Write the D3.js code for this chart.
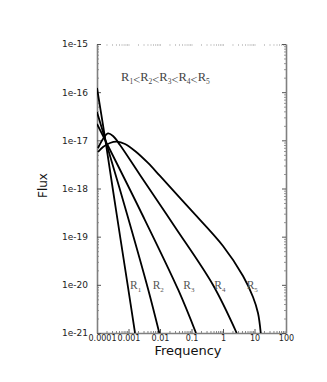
<!DOCTYPE html>
<html>
<head>
<meta charset="utf-8">
<script src="https://cdn.jsdelivr.net/npm/d3@7"></script>
<style>
  body { margin: 0; background: #fff; }
  svg { display: block; }
</style>
</head>
<body>
<div id="chart"></div>
<script>
// spectra for five radii (frequency, flux)
const seriesNames = ["1", "2", "3", "4", "5"]

const freqR1 = [1e-4, 1.8e-4, 4.01e-4, 9.64e-4, 1.61e-3]
const fluxR1 = [1.22e-16, 1.12e-17, 3.58e-19, 9.0e-21, 1e-21]

const freqR2 = [1e-4, 1.8e-4, 8.96e-4, 4.26e-3, 9.51e-3]
const fluxR2 = [3.87e-17, 1.07e-17, 2.96e-19, 7.82e-21, 1e-21]

const freqR3 = [1e-4, 1.8e-4, 2.32e-3, 0.0381, 0.139]
const fluxR3 = [2.18e-17, 1.02e-17, 3.58e-19, 7.82e-21, 1e-21]

const freqR4 = [1.076e-4, 1.55e-4, 2.23e-4, 3.22e-4, 5.37e-4, 2.32e-3, 0.0299, 0.482, 2.72]
const fluxR4 = [6.93e-18, 1.07e-17, 1.39e-17, 1.23e-17, 8.0e-18, 1.91e-18, 1.59e-19, 9.93e-21, 1e-21]

const freqR5 = [1.076e-4, 1.55e-4, 2.59e-4, 4.31e-4, 7.74e-4, 1.61e-3, 4.16e-3, 0.01, 0.0895, 1.0, 4.32, 8.96, 12.9, 15.8]
const fluxR5 = [5.73e-18, 7.28e-18, 8.81e-18, 9.37e-18, 8.39e-18, 6.01e-18, 3.39e-18, 1.82e-18, 3.76e-19, 6.41e-20, 1.53e-20, 5.6e-21, 2.61e-21, 1e-21]

// where the R labels sit near the bottom (left edge of each label)
const labelFreq = [1.12e-3, 5.86e-3, 0.055, 0.53, 5.65]
const labelFlux = 8.2e-21

const xTicks = [1e-4, 1e-3, 1e-2, 1e-1, 1, 10, 100]
const xTickLabels = ["0.0001", "0.001", "0.01", "0.1", "1", "10", "100"]
const yTicks = [1e-21, 1e-20, 1e-19, 1e-18, 1e-17, 1e-16, 1e-15]
const yTickLabels = ["1e-21", "1e-20", "1e-19", "1e-18", "1e-17", "1e-16", "1e-15"]

const width = 327
const height = 382
const margin = { top: 44, right: 41, bottom: 49, left: 97 }

const series = [
  [freqR1, fluxR1],
  [freqR2, fluxR2],
  [freqR3, fluxR3],
  [freqR4, fluxR4],
  [freqR5, fluxR5]
].map(([f, v], i) => ({ name: seriesNames[i], points: f.map((x, j) => [x, v[j]]) }))

const x = d3.scaleLog().domain([1e-4, 100]).range([margin.left, width - margin.right])
const y = d3.scaleLog().domain([1e-21, 1e-15]).range([height - margin.bottom, margin.top])

const minorX = d3.range(-4, 2).flatMap(e => d3.range(2, 10).map(k => k * Math.pow(10, e)))
const minorY = d3.range(-21, -15).flatMap(e => d3.range(2, 10).map(k => k * Math.pow(10, e)))

const svg = d3
  .select("#chart")
  .append("svg")
  .attr("width", width)
  .attr("height", height)

svg.append("defs")
  .append("clipPath")
  .attr("id", "plot-clip")
  .append("rect")
  .attr("x", margin.left)
  .attr("y", margin.top)
  .attr("width", width - margin.left - margin.right)
  .attr("height", height - margin.top - margin.bottom)

const tickFont = "DejaVu Sans, sans-serif"

function styleAxis(g, color, size) {
  g.select(".domain").attr("stroke", "#808080").attr("stroke-width", 1.6)
  g.selectAll(".tick line").attr("stroke", color)
  g.selectAll(".tick text").attr("fill", "#222").attr("font-family", tickFont).attr("font-size", size)
}

// minor ticks first, so the axes sit on top
svg.append("g")
  .attr("transform", `translate(0,${height - margin.bottom})`)
  .call(d3.axisBottom(x).tickValues(minorX).tickFormat("").tickSizeInner(-2).tickSizeOuter(0))
  .call(g => g.select(".domain").remove())
  .call(g => g.selectAll(".tick line").attr("stroke", "#888"))

svg.append("g")
  .attr("transform", `translate(0,${margin.top})`)
  .call(d3.axisTop(x).tickValues(minorX.concat(xTicks)).tickFormat("").tickSizeInner(-2).tickSizeOuter(0))
  .call(g => g.select(".domain").remove())
  .call(g => g.selectAll(".tick line").attr("stroke", "#ccc"))

svg.append("g")
  .attr("transform", `translate(${margin.left},0)`)
  .call(d3.axisLeft(y).tickValues(minorY).tickFormat("").tickSizeInner(-2).tickSizeOuter(0))
  .call(g => g.select(".domain").remove())
  .call(g => g.selectAll(".tick line").attr("stroke", "#999"))

svg.append("g")
  .attr("transform", `translate(${width - margin.right},0)`)
  .call(d3.axisRight(y).tickValues(minorY).tickFormat("").tickSizeInner(-2).tickSizeOuter(0))
  .call(g => g.select(".domain").remove())
  .call(g => g.selectAll(".tick line").attr("stroke", "#999"))

// main axes
svg.append("g")
  .attr("transform", `translate(0,${height - margin.bottom})`)
  .call(d3.axisBottom(x).tickValues(xTicks).tickFormat((d, i) => xTickLabels[i]).tickSizeInner(-4).tickSizeOuter(0).tickPadding(2))
  .call(g => styleAxis(g, "#555", 8))
  // first label nudged right so it clears the 1e-21 label, as in the original
  .call(g => g.selectAll(".tick text").filter((d, i) => i === 0).attr("dx", 5))

svg.append("g")
  .attr("transform", `translate(${margin.left},0)`)
  .call(d3.axisLeft(y).tickValues(yTicks).tickFormat((d, i) => yTickLabels[i]).tickSizeInner(-4).tickSizeOuter(0).tickPadding(9))
  .call(g => styleAxis(g, "#555", 9))

svg.append("g")
  .attr("transform", `translate(${width - margin.right},0)`)
  .call(d3.axisRight(y).tickValues(yTicks).tickFormat("").tickSizeInner(-4).tickSizeOuter(0))
  .call(g => styleAxis(g, "#555", 9))

// curves
const line = d3.line()
  .x(d => x(d[0]))
  .y(d => y(d[1]))
  .curve(d3.curveCatmullRom.alpha(0.5))

svg.append("g")
  .attr("clip-path", "url(#plot-clip)")
  .selectAll("path.spectrum")
  .data(series)
  .enter()
  .append("path")
  .attr("class", "spectrum")
  .attr("fill", "none")
  .attr("stroke", "#000")
  .attr("stroke-width", 1.8)
  .attr("stroke-linejoin", "round")
  .attr("d", d => line(d.points))

// R labels next to each curve
const serif = "Liberation Serif, DejaVu Serif, serif"

svg.selectAll("text.rlabel")
  .data(series)
  .enter()
  .append("text")
  .attr("class", "rlabel")
  .attr("x", (d, i) => x(labelFreq[i]))
  .attr("y", y(labelFlux))
  .attr("font-family", serif)
  .attr("font-size", 11.5)
  .attr("fill", "#555")
  .call(t => t.append("tspan").text("R"))
  .call(t => t.append("tspan").attr("font-size", 7).attr("dy", 3).text(d => d.name))

// ordering note at top of plot
const note = svg.append("text")
  .attr("x", x(5.8e-4))
  .attr("y", y(1.7e-16))
  .attr("font-family", serif)
  .attr("font-size", 12.5)
  .attr("fill", "#444")

seriesNames.forEach((n, i) => {
  note.append("tspan").attr("dy", i === 0 ? 0 : -3).text("R")
  note.append("tspan").attr("font-size", 7.5).attr("dy", 3).text(n)
  if (i < seriesNames.length - 1) note.append("tspan").attr("font-size", 12.5).text("<")
})

// axis titles
svg.append("text")
  .attr("x", 188)
  .attr("y", height - 27)
  .attr("text-anchor", "middle")
  .attr("font-family", tickFont)
  .attr("font-size", 13)
  .attr("fill", "#111")
  .text("Frequency")

svg.append("text")
  .attr("transform", `translate(47,${(margin.top + height - margin.bottom) / 2 - 3}) rotate(-90)`)
  .attr("text-anchor", "middle")
  .attr("font-family", tickFont)
  .attr("font-size", 12)
  .attr("fill", "#111")
  .text("Flux")
</script>
</body>
</html>
